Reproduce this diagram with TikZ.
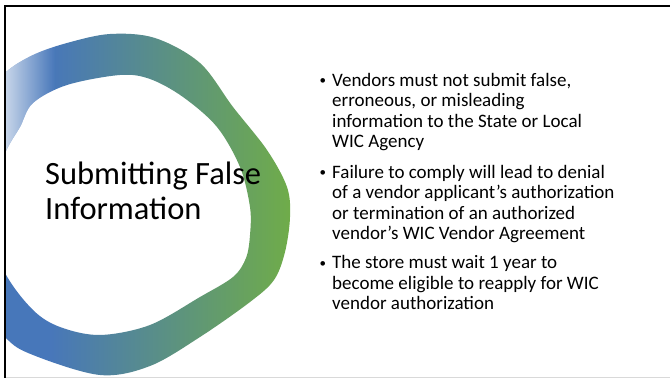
\documentclass[tikz,border=0pt]{standalone}
\usepackage{fontspec}
\setmainfont{Carlito}
\usetikzlibrary{fadings}
\tikzfading[name=fadeR, left color=transparent!0, right color=transparent!100]
\definecolor{ringblue}{HTML}{4472C4}
\definecolor{ringgreen}{HTML}{70AD47}
\definecolor{framegray}{HTML}{D9D9D9}
\tikzset{
  titletext/.style={anchor=base west, inner sep=0pt, align=left, font=\fontsize{32.5}{35}\selectfont},
  bullettext/.style={anchor=base west, inner sep=0pt, align=left, font=\fontsize{19}{20.6}\selectfont},
}
\newcommand{\bul}{\llap{\raisebox{1.5pt}{\fontsize{13}{13}\selectfont\textbullet}\hspace{6pt}}}
\begin{document}
\begin{tikzpicture}[x=1pt,y=-1pt]
\useasboundingbox (0,0) rectangle (670,379);
\fill[white] (0,0) rectangle (670,379);
\begin{scope}
  \clip (5,6) rectangle (670,377);
  \begin{scope}[even odd rule]
    \clip
      plot[smooth cycle, tension=0.55] coordinates {(-30,290) (-45,200) (-20,105) (5,73) (33,55) (67,43) (110,34) (155,38) (200,63) (233,107) (267,150) (287,187) (290,217) (285,252) (274,280) (250,302) (200,337) (150,366) (100,375) (33,355) (5,337)}
      plot[smooth cycle, tension=0.55] coordinates {(5,153) (20,127) (33,103) (67,85) (120,75) (150,79) (183,97) (217,127) (240,167) (250,207) (250,235) (246,258) (233,277) (200,297) (150,325) (100,335) (60,327) (33,310) (5,273) (-20,213)};
    \fill[ringblue!92!ringgreen] (-50,0) rectangle (50,379);
    \shade[left color=ringblue!92!ringgreen, right color=ringgreen] (50,0) rectangle (295,379);
    \fill[ringgreen] (295,0) rectangle (320,379);
    \fill[white, path fading=fadeR, fill opacity=0.7] (5,40) rectangle (55,170);
  \end{scope}
\end{scope}
% frame
\draw[black, line width=2pt] (5,378) -- (5,6) -- (670,6);
\draw[framegray, line width=1pt] (6,377.5) -- (670,377.5);
% title
\node[titletext] (title) at (45,220) {Submitting False\\Information};
% bullets
\node[bullettext] (b1) at (332,148) {\bul Vendors must not submit false,\\erroneous, or misleading\\information to the State or Local\\WIC Agency};
\node[bullettext] (b2) at (332,240) {\bul Failure to comply will lead to denial\\of a vendor applicant’s authorization\\or termination of an authorized\\vendor’s WIC Vendor Agreement};
\node[bullettext] (b3) at (332,310) {\bul The store must wait 1 year to\\become eligible to reapply for WIC\\vendor authorization};
\end{tikzpicture}
\end{document}
